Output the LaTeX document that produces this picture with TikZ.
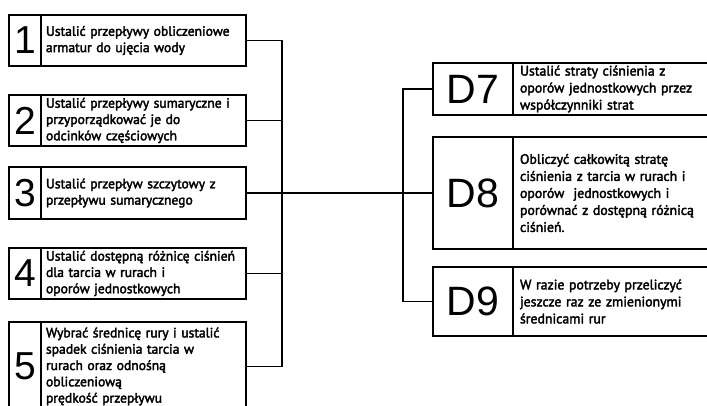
\documentclass[tikz,border=0pt]{standalone}
\usepackage{fontspec}
\setmainfont{PT Sans}[FakeBold=2.5]
\newfontfamily\numfont{Liberation Sans}
\tikzset{
  box/.style={draw=black, line width=1.6pt, inner sep=0pt, outer sep=0pt},
  numcell/.style={box, minimum width=32pt, font=\numfont\fontsize{39}{39}\selectfont},
  dcell/.style={box, minimum width=80pt, font=\numfont\fontsize{41}{41}\selectfont},
  txtcell/.style={box, anchor=west, minimum width=205pt, text width=195pt, inner xsep=5pt, align=left,
    font=\fontsize{13.6}{16.3}\selectfont},
  rtxtcell/.style={box, anchor=west, minimum width=260pt, text width=246pt, inner xsep=7pt, align=left,
    font=\fontsize{13.8}{17}\selectfont},
  conn/.style={line width=1.6pt}
}
\begin{document}
\begin{tikzpicture}[x=1pt,y=-1pt]
\useasboundingbox (0,0) rectangle (707,405);
\clip (0,0) rectangle (707,405);
% left boxes
\node[numcell, minimum height=51pt] (n1) at (25,40.5) {1};
\node[txtcell, minimum height=51pt] (t1) at (n1.east) {Ustalić przepływy obliczeniowe\\armatur do ujęcia wody};
\node[numcell, minimum height=51pt] (n2) at (25,120.5) {2};
\node[txtcell, minimum height=51pt] (t2) at (n2.east) {Ustalić przepływy sumaryczne i\\przyporządkować je do\\odcinków częściowych};
\node[numcell, minimum height=52pt] (n3) at (25,193) {3};
\node[txtcell, minimum height=52pt] (t3) at (n3.east) {Ustalić przepływ szczytowy z\\przepływu sumarycznego};
\node[numcell, minimum height=51pt] (n4) at (25,273.5) {4};
\node[txtcell, minimum height=51pt] (t4) at (n4.east) {Ustalić dostępną różnicę ciśnień\\dla tarcia w rurach i\\oporów jednostkowych};
\node[numcell, minimum height=89pt] (n5) at (25,366.5) {5};
\node[txtcell, minimum height=89pt] (t5) at (n5.east) {Wybrać średnicę rury i ustalić\\spadek ciśnienia tarcia w\\rurach oraz odnośną\\obliczeniową\\prędkość przepływu};
% right boxes
\node[dcell, minimum height=52pt] (d7) at (473,89) {D7};
\node[rtxtcell, minimum height=52pt] (r7) at (d7.east) {Ustalić straty ciśnienia z\\oporów jednostkowych przez\\współczynniki strat};
\node[dcell, minimum height=112pt] (d8) at (473,193) {D8};
\node[rtxtcell, minimum height=112pt] (r8) at (d8.east) {Obliczyć całkowitą stratę\\ciśnienia z tarcia w rurach i\\oporów\ \ jednostkowych i\\porównać z dostępną różnicą\\ciśnień.};
\node[dcell, minimum height=69pt] (d9) at (473,301.5) {D9};
\node[rtxtcell, minimum height=69pt] (r9) at (d9.east) {W razie potrzeby przeliczyć\\jeszcze raz ze zmienionymi\\średnicami rur};
% junctions
\coordinate (jl1) at (282,40.5);
\coordinate (jl5) at (282,366.5);
\coordinate (jr7) at (403,89);
\coordinate (jr9) at (403,301.5);
% connectors
\draw[conn] (t1.east) -- (jl1) -- (jl5) -- (t5.east);
\draw[conn] (t2.east) -- (t2.east -| jl1);
\draw[conn] (t4.east) -- (t4.east -| jl1);
\draw[conn] (t3.east) -- (d8.west);
\draw[conn] (d7.west) -- (jr7) -- (jr9) -- (d9.west);
\end{tikzpicture}
\end{document}
